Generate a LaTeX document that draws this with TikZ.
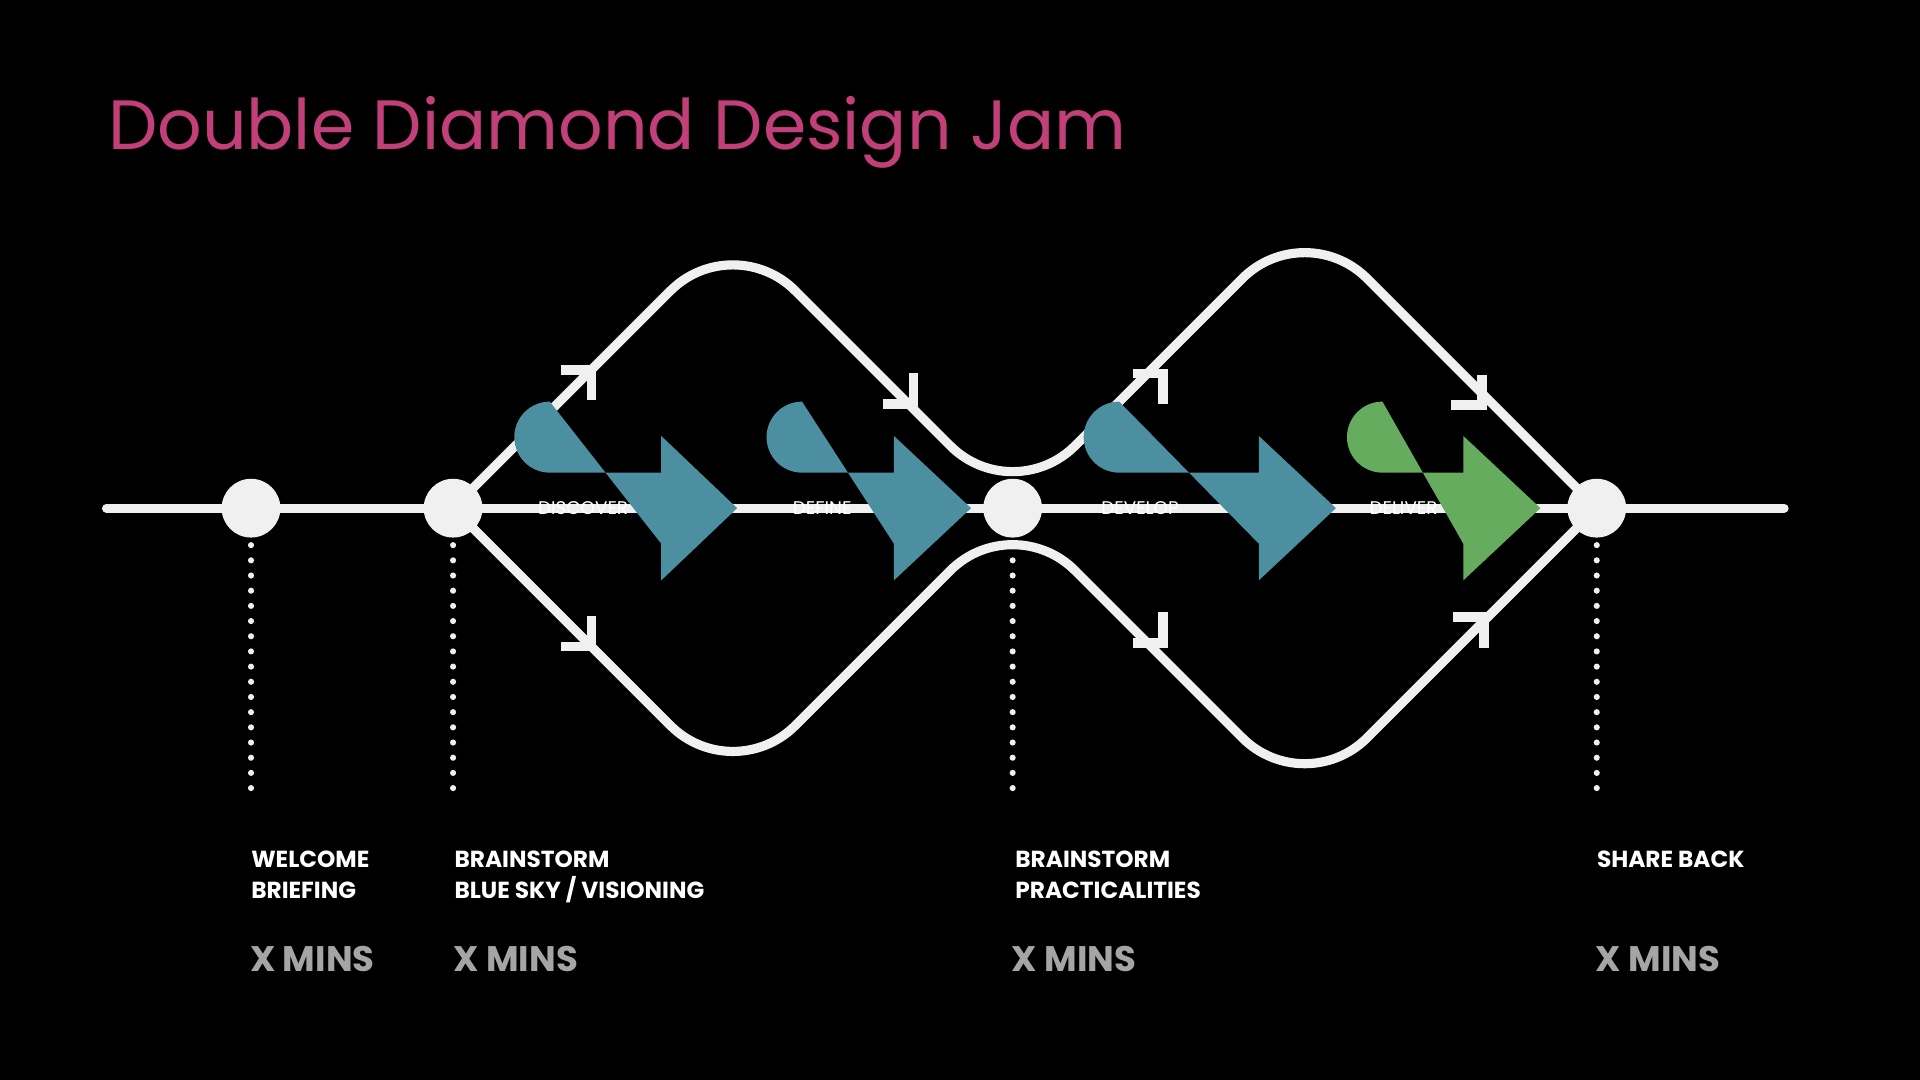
\documentclass[tikz,border=0pt]{standalone}
\usepackage{fontspec}
\setmainfont{Poppins}
\begin{document}
\begin{tikzpicture}[x=1pt,y=-1pt,
  ln/.style={line width=7.5pt,draw=lw},
  mk/.style={line width=8pt,draw=lw,line cap=butt,line join=miter},
  dot/.style={line width=5pt,draw=lw,line cap=round,dash pattern=on 0pt off 12.4pt},
  hub/.style={circle,fill=lw,minimum size=48pt,inner sep=0pt},
  stxt/.style={font=\fontsize{15}{18}\selectfont,text=white,anchor=west},
  lab/.style={font=\fontsize{19}{25}\selectfont\bfseries,text=white,anchor=north west,align=left,inner sep=0pt},
  mins/.style={font=\fontsize{29}{32}\selectfont\bfseries,text=mgray,anchor=west,inner sep=0pt}]
\definecolor{lw}{HTML}{F0F0F0}
\definecolor{teal}{HTML}{4C8FA0}
\definecolor{grn}{HTML}{66AC5E}
\definecolor{mag}{HTML}{C2407A}
\definecolor{mgray}{HTML}{A5A5A5}
\fill[black] (0,0) rectangle (1568,882);
\useasboundingbox (0,0) rectangle (1568,882);
\node[anchor=base west,inner sep=0pt,text=mag,font=\fontsize{57}{60}\selectfont] (title) at (88,122) {Double Diamond Design Jam};
% main line and diamonds
\coordinate (s) at (87,415); \coordinate (e) at (1457,415);
\coordinate (p1) at (205,415); \coordinate (p2) at (370,415);
\coordinate (p3) at (827,415); \coordinate (p4) at (1304,415);
\draw[ln,line cap=round] (s) -- (e);
\draw[ln,rounded corners=72pt] (p2) -- (598.5,186.5) -- (p3) -- (1065.5,176.5) -- (p4);
\draw[ln,rounded corners=72pt] (p2) -- (598.5,643.5) -- (p3) -- (1065.5,653.5) -- (p4);
% direction marks
\draw[mk] (458,302) -- (483,302) -- (483,327);
\draw[mk] (746,305) -- (746,330) -- (721,330);
\draw[mk] (483,503) -- (483,528) -- (458,528);
\draw[mk] (925,305) -- (950,305) -- (950,330);
\draw[mk] (1210,306) -- (1210,331) -- (1185,331);
\draw[mk] (950,500) -- (950,525) -- (925,525);
\draw[mk] (1187,504) -- (1212,504) -- (1212,529);
% step arrows
\fill[teal] (449,386) arc (90:270:29) -- (540,444) -- (540,474) -- (602,415) -- (540,356) -- (540,386) -- cycle;
\fill[teal] (655,386) arc (90:270:29) -- (730,444) -- (730,474) -- (793,415) -- (730,356) -- (730,386) -- cycle;
\fill[teal] (914,386) arc (90:270:29) -- (1028,444) -- (1028,474) -- (1091,415) -- (1028,356) -- (1028,386) -- cycle;
\fill[grn] (1129,386) arc (90:270:29) -- (1195,444) -- (1195,474) -- (1258,415) -- (1195,356) -- (1195,386) -- cycle;
\node[stxt] (t1) at (436,415) {DISCOVER};
\node[stxt] (t2) at (644,415) {DEFINE};
\node[stxt] (t3) at (896,415) {DEVELOP};
\node[stxt] (t4) at (1115,415) {DELIVER};
% hubs
\node[hub] (h1) at (p1) {};
\node[hub] (h2) at (p2) {};
\node[hub] (h3) at (p3) {};
\node[hub] (h4) at (p4) {};
\foreach \h/\x in {h1/205,h2/370,h3/827,h4/1304}{
  \coordinate (b\h) at (\x,650);
  \draw[dot] ([yshift=-6pt]\h.south) -- (b\h);
}
% labels
\node[lab] (l1) at (205,695) {WELCOME\\BRIEFING};
\node[lab] (l2) at (371,695) {BRAINSTORM\\BLUE SKY / VISIONING};
\node[lab] (l3) at (829,695) {BRAINSTORM\\PRACTICALITIES};
\node[lab] (l4) at (1304,695) {SHARE BACK};
\node[mins] (m1) at (204,783) {X MINS};
\node[mins] (m2) at (370,783) {X MINS};
\node[mins] (m3) at (826,783) {X MINS};
\node[mins] (m4) at (1303,783) {X MINS};
\end{tikzpicture}
\end{document}
